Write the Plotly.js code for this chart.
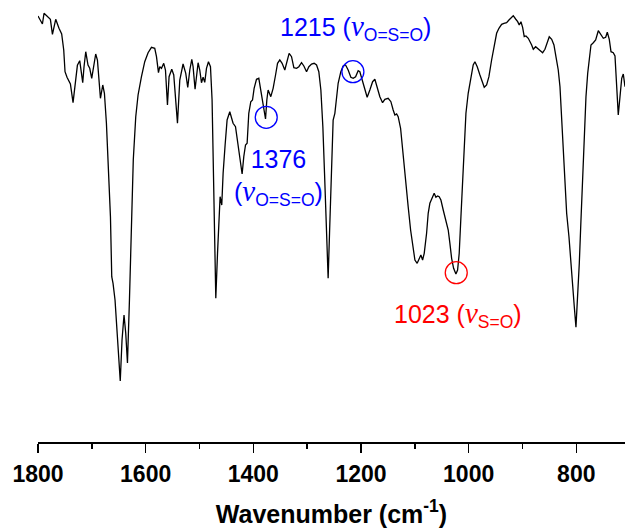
<!DOCTYPE html>
<html>
<head>
<meta charset="utf-8">
<script src="https://cdn.plot.ly/plotly-3.0.1.min.js"></script>
<style>html,body{margin:0;padding:0;background:#fff;}#chart{width:625px;height:532px;}</style>
</head>
<body>
<div id="chart"></div>
<script>
// Wavenumber (cm^-1)
const wavenumber = [1800.0,1791.8,1788.8,1781.4,1777.0,1773.2,1767.1,1761.0,1756.0,1752.2,1749.8,1746.1,1739.8,1734.9,1730.5,1726.8,1722.5,1716.9,1714.5,1711.3,1707.1,1703.9,1700.2,1696.5,1692.8,1689.6,1687.2,1684.0,1679.7,1676.6,1672.9,1669.1,1665.4,1663.0,1660.6,1656.9,1653.2,1647.2,1643.9,1640.2,1637.0,1633.8,1630.1,1626.4,1623.0,1618.4,1614.1,1607.8,1601.7,1595.5,1589.2,1583.1,1579.9,1576.2,1573.8,1570.6,1566.4,1563.2,1559.5,1556.5,1551.5,1547.8,1544.6,1540.9,1536.6,1530.5,1525.5,1521.8,1518.0,1514.3,1511.9,1508.2,1502.6,1499.5,1496.3,1493.3,1490.2,1487.0,1483.3,1479.6,1476.6,1474.7,1472.9,1469.7,1466.5,1463.6,1461.7,1458.6,1456.1,1452.4,1448.7,1443.7,1437.6,1433.1,1429.4,1425.1,1420.8,1417.7,1414.5,1411.5,1408.4,1404.7,1401.5,1398.5,1394.1,1389.8,1386.1,1381.8,1377.3,1374.9,1372.5,1367.5,1363.2,1358.7,1355.0,1350.8,1346.5,1341.5,1337.2,1333.5,1329.0,1324.7,1319.7,1315.4,1310.4,1306.1,1301.1,1296.8,1291.8,1287.0,1282.5,1278.3,1274.5,1270.8,1267.7,1264.7,1261.0,1258.4,1254.7,1251.7,1248.5,1245.4,1242.4,1237.4,1233.1,1228.6,1223.8,1218.8,1214.5,1210.0,1205.2,1202.1,1197.8,1192.8,1188.5,1183.5,1178.4,1174.2,1169.9,1164.9,1159.9,1155.6,1149.5,1144.4,1140.2,1137.0,1133.8,1130.9,1126.4,1121.6,1116.6,1112.3,1107.8,1104.1,1099.8,1095.6,1091.8,1088.7,1085.5,1082.5,1078.1,1075.1,1072.0,1067.7,1064.0,1060.8,1057.6,1054.7,1051.5,1047.2,1042.8,1037.9,1034.8,1031.6,1027.9,1023.6,1020.5,1017.5,1014.3,1011.2,1008.2,1005.0,1000.8,995.7,991.5,988.3,984.0,979.0,974.7,971.0,966.6,962.3,957.3,952.4,948.0,943.7,938.7,934.4,929.4,925.1,921.4,917.1,912.7,908.9,906.0,902.8,899.7,896.7,893.5,889.2,882.9,879.9,875.5,870.6,866.2,862.5,858.2,853.9,850.2,845.7,841.5,837.8,833.5,830.3,827.2,824.2,821.0,817.9,813.6,809.9,806.7,803.7,800.6,797.4,794.4,791.3,788.1,785.2,782.0,778.8,775.9,772.7,768.4,764.0,759.1,754.7,749.8,745.4,742.4,738.7,735.5,731.3,728.1,724.9,722.0,718.8,715.6,712.7,709.5];
// Transmittance (arbitrary units)
const transmittance = [426,418,428.7,424.7,422.7,407.7,422.7,413.7,408,392,370.3,364.7,358,339.3,362,376.7,381.3,359.3,375.3,390.3,377,373.7,363.7,377,388,382,362,343.7,357,348.7,318.7,275.3,225.3,165.3,158.7,142,108.7,61,102,127,108.7,79,142,208.7,282,325.3,347,365.3,380.3,389.3,394.7,393.7,385.3,369.3,375.3,373.7,378.7,372,337,365.3,372.7,367,345.3,318.7,362,378,368.7,354.7,372,382.7,375.3,352.7,379.3,372,359.3,364.7,359.7,373.7,380.3,375.3,342,275.3,208.7,143.7,188.7,235.3,245.3,237,268.7,297,322,330.3,318.7,315.3,302,282,268,285.3,297,298.7,328.7,340.3,342,353.7,362.7,363.7,352,335.3,323,342,352,345.3,353.7,367,378.7,382,378.7,372,380.3,388.7,385.3,374.3,373.7,375.3,379.3,376,370.3,375.3,378,378.7,377,370.3,352,315.3,268.7,215.3,163.7,209,282,322,328.7,342,358.7,370.3,376,377,372,364.7,363.7,365.3,371.3,370.3,362,350.3,344.7,352,360.3,362.7,355.3,345.3,339.3,342.7,343.7,340.3,332,327,328,325.3,313.7,285.3,257,235.3,212,195.3,182,178.7,183.7,187,182,188.7,208.7,228.7,238.7,245.3,248.7,244.7,246,245.3,242,232,222,212,198.7,183.7,173.7,168,172,188.7,225.3,265.3,298.7,328.7,348.7,365.3,377,380.3,375.3,367,360.3,354.7,357,365.3,382,397,408.7,413.7,417.7,418.7,419.3,422,423.7,426.3,423,420.3,417,420.3,414.7,405.3,406,403.7,397,392.7,395.3,392.7,391.3,389.3,392.7,400.3,405.3,402.7,397,385.3,372,355.3,322,285.3,252,228.7,205.3,182,158.7,135.3,114.7,142,178.7,222,265.3,308.7,345.3,368.7,385.3,397,399.3,402,411.3,408,403.7,404.7,409.7,402.7,390.3,389.3,386,355.3,327,345.3,363.7,368,355.3];

// Marked bands
const peakWavenumber = [1376, 1215, 1023];
const peakTransmittance = [324.7, 370.3, 169.3];
const nu = "<span style=\"font-family:'Liberation Serif', 'Times New Roman', serif;font-size:29px\"><i>ν</i></span>";
const peakLabels = [
  "1376<br>(" + nu + "<sub>O=S=O</sub>)",
  "1215 (" + nu + "<sub>O=S=O</sub>)",
  "1023 (" + nu + "<sub>S=O</sub>)"
];
const peakColors = ['#0000ff', '#0000ff', '#ff0000'];
const xTitle = 'Wavenumber (cm<sup>-1</sup>)';

// label anchor positions (in axis units)
const labelPos = [[1354, 265], [1211, 415], [1020, 128]];

const trace = {
  x: wavenumber, y: transmittance, type: 'scatter', mode: 'lines',
  line: {color: '#000000', width: 1.3}, hoverinfo: 'skip'
};

const shapes = peakWavenumber.map((w, i) => ({
  type: 'circle', xref: 'x', yref: 'y',
  xsizemode: 'pixel', ysizemode: 'pixel',
  xanchor: w, yanchor: peakTransmittance[i],
  x0: -11, x1: 11, y0: -11, y1: 11,
  line: {color: peakColors[i], width: 1.3}
}));

const annotations = peakLabels.map((t, i) => ({
  text: t, x: labelPos[i][0], y: labelPos[i][1], xref: 'x', yref: 'y',
  showarrow: false, xanchor: 'center', yanchor: 'middle', align: 'center',
  font: {family: 'Liberation Sans, Arial, sans-serif', size: 25, color: peakColors[i]}
}));

const layout = {
  width: 625, height: 532,
  margin: {l: 38, r: 0, t: 10, b: 90},
  paper_bgcolor: '#ffffff', plot_bgcolor: '#ffffff',
  showlegend: false,
  xaxis: {
    range: [1800, 709.5], dtick: 200, tick0: 0,
    showgrid: false, zeroline: false,
    showline: true, linecolor: '#000', linewidth: 1.5,
    ticks: 'outside', ticklen: 9, tickwidth: 1.5, tickcolor: '#000',
    ticklabelstandoff: 2,
    minor: {dtick: 100, tick0: 0, ticks: 'outside', ticklen: 5, tickwidth: 1.5, tickcolor: '#000', showgrid: false},
    tickfont: {family: 'Liberation Sans, Arial, sans-serif', size: 23, color: '#000', weight: 'bold'},
    title: {text: xTitle, font: {family: 'Liberation Sans, Arial, sans-serif', size: 25, color: '#000', weight: 'bold'}, standoff: 19}
  },
  yaxis: {range: [0, 432], visible: false, showgrid: false, zeroline: false},
  shapes: shapes,
  annotations: annotations
};

Plotly.newPlot('chart', [trace], layout, {displayModeBar: false, staticPlot: true});
</script>
</body>
</html>
